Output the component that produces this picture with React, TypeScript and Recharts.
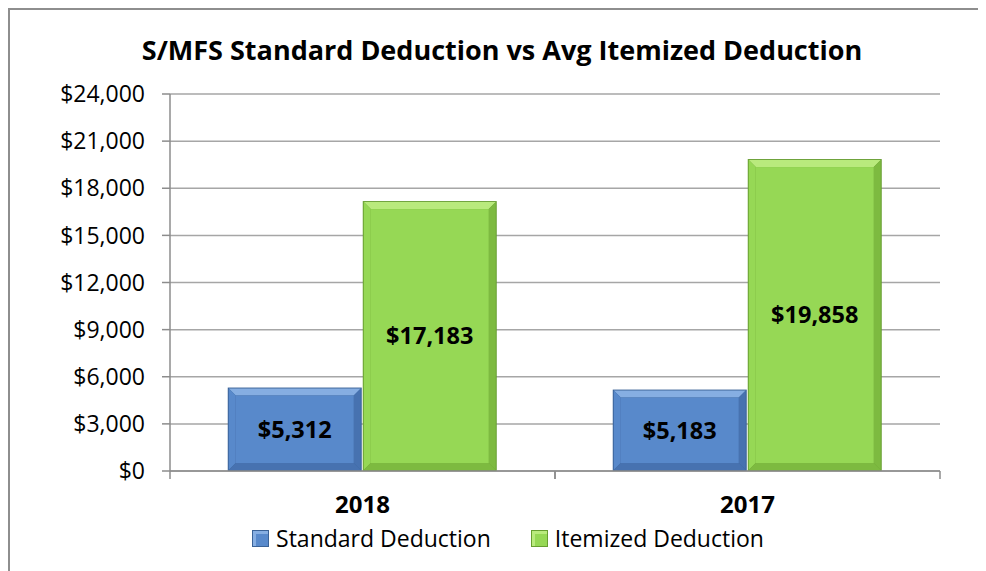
import React from "react";
import { BarChart, Bar, XAxis, YAxis, CartesianGrid, Legend, LabelList } from "recharts";

const categories = ["2018", "2017"];
const standardDeduction = [5312, 5183];
const itemizedDeduction = [17183, 19858];
const yTicks = [0, 3000, 6000, 9000, 12000, 15000, 18000, 21000, 24000];

const data = categories.map((year, i) => ({
    year,
    standard: standardDeduction[i],
    itemized: itemizedDeduction[i]
}));

const FONT = "'Open Sans', 'DejaVu Sans', sans-serif";

const palette = {
    standard: { main: "#5889CB", light: "#86AEE2", dark: "#4772B0", edge: "#3A6297" },
    itemized: { main: "#96D855", light: "#B9EA7D", dark: "#7DBA40", edge: "#679E30" }
};

const money = (v: number) => "$" + v.toLocaleString("en-US");

function bevelShape(c: { main: string; light: string; dark: string; edge: string }) {
    return (props: any) => {
        const { x, y, width, height } = props;
        if (!height || height <= 0) return null;
        const b = Math.min(7, width / 4, height / 4);
        return (
            <g>
                <rect x={x} y={y} width={width} height={height} fill={c.edge} />
                <polygon
                    points={`${x + 1},${y + 1} ${x + width - 1},${y + 1} ${x + width - 1 - b},${y + 1 + b} ${x + 1 + b},${y + 1 + b}`}
                    fill={c.light}
                />
                <polygon
                    points={`${x + 1},${y + 1} ${x + 1 + b},${y + 1 + b} ${x + 1 + b},${y + height - 1 - b} ${x + 1},${y + height - 1}`}
                    fill={c.main}
                />
                <polygon
                    points={`${x + width - 1},${y + 1} ${x + width - 1},${y + height - 1} ${x + width - 1 - b},${y + height - 1 - b} ${x + width - 1 - b},${y + 1 + b}`}
                    fill={c.dark}
                />
                <polygon
                    points={`${x + 1},${y + height - 1} ${x + width - 1},${y + height - 1} ${x + width - 1 - b},${y + height - 1 - b} ${x + 1 + b},${y + height - 1 - b}`}
                    fill={c.dark}
                />
                <rect x={x + 1 + b} y={y + 1 + b} width={width - 2 - 2 * b} height={height - 2 - 2 * b} fill={c.main} />
            </g>
        );
    };
}

const CategoryTick = (props: any) => {
    const { x, y, payload } = props;
    const off = payload?.offset ?? 0;
    const axisY = y - 8;
    return (
        <g>
            <line x1={x - off} x2={x - off} y1={axisY} y2={axisY + 8} stroke="#8C8C8C" strokeWidth={1.5} />
            <line x1={x + off} x2={x + off} y1={axisY} y2={axisY + 8} stroke="#8C8C8C" strokeWidth={1.5} />
            <text x={x} y={axisY + 42} textAnchor="middle" fontFamily={FONT} fontWeight={700} fontSize={24} fill="#000">
                {payload.value}
            </text>
        </g>
    );
};

const legendItems = [
    { label: "Standard Deduction", c: palette.standard },
    { label: "Itemized Deduction", c: palette.itemized }
];

const LegendContent = () => (
    <div style={{ display: "flex", justifyContent: "center", alignItems: "center", gap: 40, fontFamily: FONT, fontSize: 23 }}>
        {legendItems.map((it) => (
            <div key={it.label} style={{ display: "flex", alignItems: "center", gap: 7 }}>
                <svg width={17} height={17}>
                    <rect x={0} y={0} width={17} height={17} fill={it.c.edge} />
                    <rect x={1} y={1} width={15} height={15} fill={it.c.light} />
                    <rect x={4} y={4} width={12} height={12} fill={it.c.main} />
                </svg>
                <span style={{ color: "#000" }}>{it.label}</span>
            </div>
        ))}
    </div>
);

export default function App() {
    return (
        <div
            style={{
                position: "relative",
                width: 978,
                height: 563,
                boxSizing: "border-box",
                borderTop: "2px solid #8E8E8E",
                borderLeft: "2px solid #8E8E8E",
                overflow: "hidden",
                background: "#fff"
            }}
        >
            <div
                style={{
                    position: "absolute",
                    left: 0,
                    top: 21,
                    width: 984,
                    textAlign: "center",
                    fontFamily: FONT,
                    fontWeight: 700,
                    fontSize: 27,
                    color: "#000"
                }}
            >
                S/MFS Standard Deduction vs Avg Itemized Deduction
            </div>
            <div style={{ position: "absolute", left: 0, top: 0 }}>
                <BarChart
                    width={976}
                    height={561}
                    data={data}
                    margin={{ top: 84, right: 46, left: 60, bottom: 0 }}
                    barCategoryGap="15%"
                    barGap={1}
                >
                    <CartesianGrid vertical={false} stroke="#A6A6A6" strokeWidth={1.5} />
                    <XAxis
                        dataKey="year"
                        axisLine={{ stroke: "#8C8C8C", strokeWidth: 1.5 }}
                        tickLine={false}
                        tickSize={8}
                        tickMargin={0}
                        height={70}
                        interval={0}
                        tick={<CategoryTick />}
                    />
                    <YAxis
                        width={100}
                        domain={[0, 24000]}
                        ticks={yTicks}
                        interval={0}
                        tickFormatter={money}
                        axisLine={{ stroke: "#8C8C8C", strokeWidth: 1.5 }}
                        tickLine={{ stroke: "#8C8C8C", strokeWidth: 1.5 }}
                        tickSize={8}
                        tickMargin={17}
                        tick={{ fill: "#000", fontSize: 23, fontFamily: FONT }}
                    />
                    <Legend
                        content={<LegendContent />}
                        wrapperStyle={{ position: "absolute", top: 512, left: 3, width: 990, height: 30 }}
                    />
                    <Bar dataKey="standard" name="Standard Deduction" shape={bevelShape(palette.standard)} isAnimationActive={false}>
                        <LabelList dataKey="standard" position="center" formatter={(v: any) => money(Number(v))} fill="#000" fontWeight={700} fontSize={23.5} fontFamily={FONT} />
                    </Bar>
                    <Bar dataKey="itemized" name="Itemized Deduction" shape={bevelShape(palette.itemized)} isAnimationActive={false}>
                        <LabelList dataKey="itemized" position="center" formatter={(v: any) => money(Number(v))} fill="#000" fontWeight={700} fontSize={23.5} fontFamily={FONT} />
                    </Bar>
                </BarChart>
            </div>
        </div>
    );
}
